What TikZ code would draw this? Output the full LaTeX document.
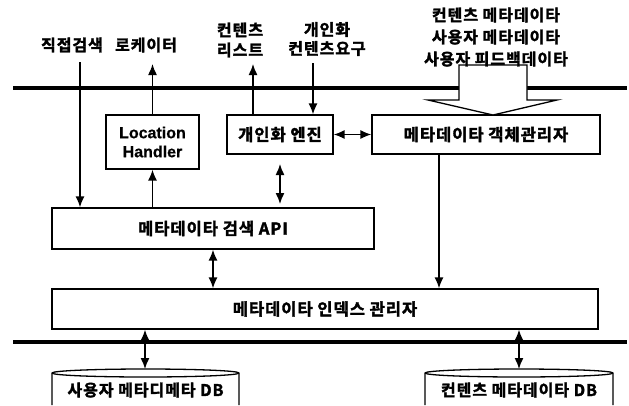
\documentclass[tikz,border=0pt]{standalone}
\usepackage{fontspec}
\newfontfamily\kr{Noto Sans CJK KR Bold}[LetterSpace=6, FakeBold=2]
\newfontfamily\lat{Liberation Sans Bold}[FakeBold=0.6]
\usetikzlibrary{arrows.meta}
\begin{document}
\begin{tikzpicture}[x=1pt,y=-1pt,
  box/.style={draw, line width=1.3pt, inner sep=0pt, align=center,
    font=\kr\fontsize{16.5}{18}\selectfont},
  bus/.style={line width=4pt},
  con/.style={line width=1.4pt, -{Latex[length=11pt,width=9pt]}},
  dcon/.style={line width=1.4pt, {Latex[length=11pt,width=9pt]}-{Latex[length=11pt,width=9pt]}},
  lbl/.style={inner sep=0pt, align=center, font=\kr\fontsize{16}{20}\selectfont},
  dbshape/.style={line width=1.3pt}]
\useasboundingbox (0,0) rectangle (629,405);
\fill[white] (0,0) rectangle (629,405);

% buses
\coordinate (busTL) at (13,88);
\coordinate (busTR) at (627,88);
\coordinate (busBL) at (13,342);
\coordinate (busBR) at (627,342);
\draw[bus] (busTL) -- (busTR);
\draw[bus] (busBL) -- (busBR);

% boxes
\node[box, minimum width=93pt, minimum height=54pt,
  font=\lat\fontsize{16}{19}\selectfont] (lh) at (152.5,142) {Location\\Handler};
\node[box, minimum width=106pt, minimum height=39pt] (pe) at (280,134.5) {개인화 엔진};
\node[box, minimum width=228pt, minimum height=39pt] (om) at (486,134.5) {메타데이타 객체관리자};
\node[box, minimum width=322pt, minimum height=41pt] (api) at (213,228.5) {메타데이타 검색 API};
\node[box, minimum width=546pt, minimum height=40pt] (idx) at (325,309) {메타데이타 인덱스 관리자};

% databases (cylinders cut by the page edge)
\draw[dbshape, fill=white] (52,405) -- (52,373) arc[start angle=180, end angle=0, x radius=93.5pt, y radius=4pt] -- (239,405);
\draw[dbshape] (52,373) arc[start angle=180, end angle=360, x radius=93.5pt, y radius=4pt];
\draw[dbshape, fill=white] (425,405) -- (425,373) arc[start angle=180, end angle=0, x radius=94pt, y radius=4pt] -- (613,405);
\draw[dbshape] (425,373) arc[start angle=180, end angle=360, x radius=94pt, y radius=4pt];
\node[lbl] (db1) at (145.5,390) {사용자 메타디메타 DB};
\node[lbl] (db2) at (519,390) {컨텐츠 메타데이타 DB};
\coordinate (db1top) at (145,369);
\coordinate (db2top) at (519,369);

% hollow arrow
\draw[line width=1.3pt, fill=white] (459,65) -- (527,65) -- (527,100) -- (557,100) -- (493,115) -- (428,100) -- (459,100) -- cycle;

% labels
\node[lbl] (t1) at (72,45) {직접검색};
\node[lbl] (t2) at (146,45) {로케이터};
\node[lbl] (t3) at (240,40) {컨텐츠\\리스트};
\node[lbl, font=\kr\fontsize{16}{19}\selectfont] (t4) at (327,39) {개인화\\컨텐츠요구};
\node[lbl, font=\kr\fontsize{16}{22}\selectfont] (t5) at (496,37) {컨텐츠 메타데이타\\사용자 메타데이타\\사용자 피드백데이타};

% connector end points
\coordinate (qin) at (80,62);
\coordinate (lhout) at (152.5,64);
\coordinate (clout) at (253,64);
\coordinate (pin) at (313,63);
\coordinate (pa1) at (280,164);
\coordinate (pa2) at (280,204);
\coordinate (ov) at (439,154);

% connectors
\draw[con] (qin) -- (qin |- api.north);
\draw[con] (api.north -| lh) -- (lh.south);
\draw[con] (lh.north) -- (lhout);
\draw[con] (pe.north -| clout) -- (clout);
\draw[con] (pin) -- (pin |- pe.north);
\draw[dcon] (pe.east) -- (om.west);
\draw[dcon] (pa1) -- (pa2);
\draw[con] (om.south -| ov) -- (idx.north -| ov);
\draw[dcon] (api.south) -- (api.south |- idx.north);
\draw[dcon] (idx.south -| db1top) -- (db1top);
\draw[dcon] (idx.south -| db2top) -- (db2top);
\end{tikzpicture}
\end{document}
